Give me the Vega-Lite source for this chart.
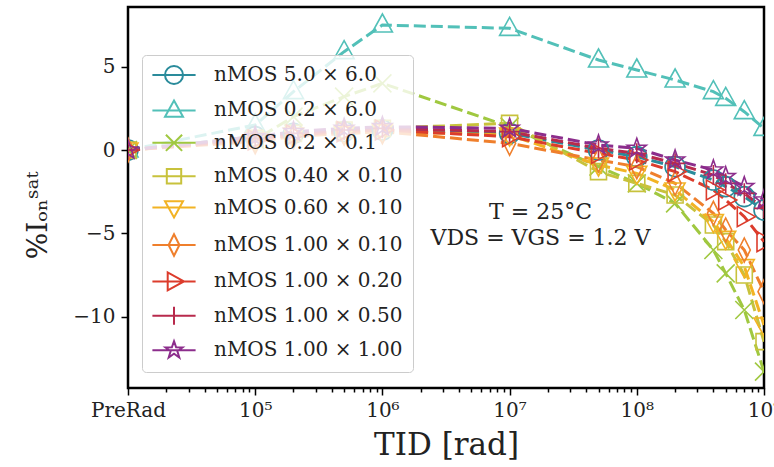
{
 "$schema": "https://vega.github.io/schema/vega-lite/v6.json",
 "width": 636, "height": 381,
 "autosize": {"type": "none"},
 "padding": {"left": 128, "top": 7, "right": 10, "bottom": 79},
 "background": "white",
 "config": {"view": {"stroke": "black", "strokeWidth": 2.5}, "font": "DejaVu Serif"},
 "resolve": {"scale": {"color": "independent", "shape": "independent"}},
 "data": {"values": [
  {"s":"nMOS 5.0 × 6.0","tid":10000,"v":0},{"s":"nMOS 5.0 × 6.0","tid":100000,"v":0.8},{"s":"nMOS 5.0 × 6.0","tid":200000,"v":1.0},{"s":"nMOS 5.0 × 6.0","tid":500000,"v":1.1},{"s":"nMOS 5.0 × 6.0","tid":1000000,"v":1.2},{"s":"nMOS 5.0 × 6.0","tid":10000000,"v":1.0},{"s":"nMOS 5.0 × 6.0","tid":50000000,"v":0.0},{"s":"nMOS 5.0 × 6.0","tid":100000000,"v":-0.4},{"s":"nMOS 5.0 × 6.0","tid":200000000,"v":-1.0},{"s":"nMOS 5.0 × 6.0","tid":400000000,"v":-1.8},{"s":"nMOS 5.0 × 6.0","tid":500000000,"v":-2.2},{"s":"nMOS 5.0 × 6.0","tid":700000000,"v":-2.8},{"s":"nMOS 5.0 × 6.0","tid":1000000000,"v":-3.6},
  {"s":"nMOS 0.2 × 6.0","tid":10000,"v":0},{"s":"nMOS 0.2 × 6.0","tid":100000,"v":1.5},{"s":"nMOS 0.2 × 6.0","tid":200000,"v":3.5},{"s":"nMOS 0.2 × 6.0","tid":500000,"v":5.9},{"s":"nMOS 0.2 × 6.0","tid":1000000,"v":7.5},{"s":"nMOS 0.2 × 6.0","tid":10000000,"v":7.3},{"s":"nMOS 0.2 × 6.0","tid":50000000,"v":5.4},{"s":"nMOS 0.2 × 6.0","tid":100000000,"v":4.8},{"s":"nMOS 0.2 × 6.0","tid":200000000,"v":4.2},{"s":"nMOS 0.2 × 6.0","tid":400000000,"v":3.5},{"s":"nMOS 0.2 × 6.0","tid":500000000,"v":3.1},{"s":"nMOS 0.2 × 6.0","tid":700000000,"v":2.3},{"s":"nMOS 0.2 × 6.0","tid":1000000000,"v":1.3},
  {"s":"nMOS 0.2 × 0.1","tid":10000,"v":0},{"s":"nMOS 0.2 × 0.1","tid":100000,"v":0.6},{"s":"nMOS 0.2 × 0.1","tid":200000,"v":2.0},{"s":"nMOS 0.2 × 0.1","tid":500000,"v":3.2},{"s":"nMOS 0.2 × 0.1","tid":1000000,"v":4.0},{"s":"nMOS 0.2 × 0.1","tid":10000000,"v":1.4},{"s":"nMOS 0.2 × 0.1","tid":50000000,"v":-1.0},{"s":"nMOS 0.2 × 0.1","tid":100000000,"v":-2.0},{"s":"nMOS 0.2 × 0.1","tid":200000000,"v":-3.2},{"s":"nMOS 0.2 × 0.1","tid":400000000,"v":-6.0},{"s":"nMOS 0.2 × 0.1","tid":500000000,"v":-7.4},{"s":"nMOS 0.2 × 0.1","tid":700000000,"v":-9.6},{"s":"nMOS 0.2 × 0.1","tid":1000000000,"v":-13.3},
  {"s":"nMOS 0.40 × 0.10","tid":10000,"v":0},{"s":"nMOS 0.40 × 0.10","tid":100000,"v":0.7},{"s":"nMOS 0.40 × 0.10","tid":200000,"v":1.0},{"s":"nMOS 0.40 × 0.10","tid":500000,"v":1.2},{"s":"nMOS 0.40 × 0.10","tid":1000000,"v":1.3},{"s":"nMOS 0.40 × 0.10","tid":10000000,"v":1.6},{"s":"nMOS 0.40 × 0.10","tid":50000000,"v":-1.3},{"s":"nMOS 0.40 × 0.10","tid":100000000,"v":-2.0},{"s":"nMOS 0.40 × 0.10","tid":200000000,"v":-2.7},{"s":"nMOS 0.40 × 0.10","tid":400000000,"v":-4.5},{"s":"nMOS 0.40 × 0.10","tid":500000000,"v":-5.5},{"s":"nMOS 0.40 × 0.10","tid":700000000,"v":-7.5},{"s":"nMOS 0.40 × 0.10","tid":1000000000,"v":-11.5},
  {"s":"nMOS 0.60 × 0.10","tid":10000,"v":0},{"s":"nMOS 0.60 × 0.10","tid":100000,"v":0.6},{"s":"nMOS 0.60 × 0.10","tid":200000,"v":0.9},{"s":"nMOS 0.60 × 0.10","tid":500000,"v":1.0},{"s":"nMOS 0.60 × 0.10","tid":1000000,"v":1.1},{"s":"nMOS 0.60 × 0.10","tid":10000000,"v":0.9},{"s":"nMOS 0.60 × 0.10","tid":50000000,"v":-0.9},{"s":"nMOS 0.60 × 0.10","tid":100000000,"v":-1.4},{"s":"nMOS 0.60 × 0.10","tid":200000000,"v":-2.4},{"s":"nMOS 0.60 × 0.10","tid":400000000,"v":-4.3},{"s":"nMOS 0.60 × 0.10","tid":500000000,"v":-5.3},{"s":"nMOS 0.60 × 0.10","tid":700000000,"v":-7.0},{"s":"nMOS 0.60 × 0.10","tid":1000000000,"v":-10.5},
  {"s":"nMOS 1.00 × 0.10","tid":10000,"v":0},{"s":"nMOS 1.00 × 0.10","tid":100000,"v":0.5},{"s":"nMOS 1.00 × 0.10","tid":200000,"v":0.8},{"s":"nMOS 1.00 × 0.10","tid":500000,"v":1.0},{"s":"nMOS 1.00 × 0.10","tid":1000000,"v":1.1},{"s":"nMOS 1.00 × 0.10","tid":10000000,"v":0.4},{"s":"nMOS 1.00 × 0.10","tid":50000000,"v":-0.6},{"s":"nMOS 1.00 × 0.10","tid":100000000,"v":-1.0},{"s":"nMOS 1.00 × 0.10","tid":200000000,"v":-2.0},{"s":"nMOS 1.00 × 0.10","tid":400000000,"v":-3.8},{"s":"nMOS 1.00 × 0.10","tid":500000000,"v":-4.8},{"s":"nMOS 1.00 × 0.10","tid":700000000,"v":-6.0},{"s":"nMOS 1.00 × 0.10","tid":1000000000,"v":-8.5},
  {"s":"nMOS 1.00 × 0.20","tid":10000,"v":0},{"s":"nMOS 1.00 × 0.20","tid":100000,"v":0.6},{"s":"nMOS 1.00 × 0.20","tid":200000,"v":0.9},{"s":"nMOS 1.00 × 0.20","tid":500000,"v":1.1},{"s":"nMOS 1.00 × 0.20","tid":1000000,"v":1.2},{"s":"nMOS 1.00 × 0.20","tid":10000000,"v":0.8},{"s":"nMOS 1.00 × 0.20","tid":50000000,"v":-0.2},{"s":"nMOS 1.00 × 0.20","tid":100000000,"v":-0.6},{"s":"nMOS 1.00 × 0.20","tid":200000000,"v":-1.3},{"s":"nMOS 1.00 × 0.20","tid":400000000,"v":-2.4},{"s":"nMOS 1.00 × 0.20","tid":500000000,"v":-3.0},{"s":"nMOS 1.00 × 0.20","tid":700000000,"v":-4.0},{"s":"nMOS 1.00 × 0.20","tid":1000000000,"v":-5.5},
  {"s":"nMOS 1.00 × 0.50","tid":10000,"v":0},{"s":"nMOS 1.00 × 0.50","tid":100000,"v":0.7},{"s":"nMOS 1.00 × 0.50","tid":200000,"v":1.0},{"s":"nMOS 1.00 × 0.50","tid":500000,"v":1.2},{"s":"nMOS 1.00 × 0.50","tid":1000000,"v":1.3},{"s":"nMOS 1.00 × 0.50","tid":10000000,"v":1.1},{"s":"nMOS 1.00 × 0.50","tid":50000000,"v":0.1},{"s":"nMOS 1.00 × 0.50","tid":100000000,"v":-0.2},{"s":"nMOS 1.00 × 0.50","tid":200000000,"v":-0.8},{"s":"nMOS 1.00 × 0.50","tid":400000000,"v":-1.5},{"s":"nMOS 1.00 × 0.50","tid":500000000,"v":-2.0},{"s":"nMOS 1.00 × 0.50","tid":700000000,"v":-2.6},{"s":"nMOS 1.00 × 0.50","tid":1000000000,"v":-3.5},
  {"s":"nMOS 1.00 × 1.00","tid":10000,"v":0},{"s":"nMOS 1.00 × 1.00","tid":100000,"v":0.8},{"s":"nMOS 1.00 × 1.00","tid":200000,"v":1.1},{"s":"nMOS 1.00 × 1.00","tid":500000,"v":1.3},{"s":"nMOS 1.00 × 1.00","tid":1000000,"v":1.4},{"s":"nMOS 1.00 × 1.00","tid":10000000,"v":1.3},{"s":"nMOS 1.00 × 1.00","tid":50000000,"v":0.3},{"s":"nMOS 1.00 × 1.00","tid":100000000,"v":0.1},{"s":"nMOS 1.00 × 1.00","tid":200000000,"v":-0.6},{"s":"nMOS 1.00 × 1.00","tid":400000000,"v":-1.2},{"s":"nMOS 1.00 × 1.00","tid":500000000,"v":-1.6},{"s":"nMOS 1.00 × 1.00","tid":700000000,"v":-2.2},{"s":"nMOS 1.00 × 1.00","tid":1000000000,"v":-3.0}
 ]},
 "encoding": {
  "x": {"field": "tid", "type": "quantitative", "title": "TID [rad]",
   "scale": {"type": "log", "domain": [10000, 1000000000], "nice": false},
   "axis": {"values": [10000,20000,30000,40000,50000,60000,70000,80000,90000,100000,200000,300000,400000,500000,600000,700000,800000,900000,1000000,2000000,3000000,4000000,5000000,6000000,7000000,8000000,9000000,10000000,20000000,30000000,40000000,50000000,60000000,70000000,80000000,90000000,100000000,200000000,300000000,400000000,500000000,600000000,700000000,800000000,900000000,1000000000],
    "labelExpr": "datum.value == 10000 ? 'PreRad' : datum.value == 100000 ? '10⁵' : datum.value == 1000000 ? '10⁶' : datum.value == 10000000 ? '10⁷' : datum.value == 100000000 ? '10⁸' : datum.value == 1000000000 ? '10⁹' : ''",
    "tickSize": {"condition": {"test": "indexof([10000,100000,1000000,10000000,100000000,1000000000], datum.value) >= 0", "value": 7}, "value": 4},
    "labelOverlap": false, "labelFlush": false, "labelBound": false, "grid": false, "domain": false,
    "tickColor": "black", "tickWidth": 1.5, "labelFont": "DejaVu Serif", "labelFontSize": 20, "labelColor": "#222", "labelPadding": 5,
    "titleFont": "DejaVu Serif", "titleFontSize": 31, "titleFontWeight": "normal", "titleColor": "#222", "titlePadding": 10}},
  "y": {"field": "v", "type": "quantitative", "title": "%Iₒₙˢᵃᵗ",
   "scale": {"domain": [-14.28, 8.58], "nice": false, "zero": false},
   "axis": {"values": [-10, -5, 0, 5], "labelExpr": "replace(format(datum.value, 'd'), '-', '−')",
    "labelFlush": false, "grid": false, "domain": false, "tickSize": 7, "tickColor": "black", "tickWidth": 1.5,
    "labelFont": "DejaVu Serif", "labelFontSize": 20, "labelColor": "#222", "labelPadding": 6,
    "titleFont": "DejaVu Serif", "titleFontSize": 28, "titleFontWeight": "normal", "titleColor": "#222", "titlePadding": 20, "titleY": 208}}
 },
 "layer": [
  {"mark": {"type": "line", "strokeWidth": 3, "strokeDash": [12, 5], "clip": true},
   "encoding": {"color": {"field": "s", "type": "nominal", "legend": null,
     "scale": {"domain": ["nMOS 5.0 × 6.0","nMOS 0.2 × 6.0","nMOS 0.2 × 0.1","nMOS 0.40 × 0.10","nMOS 0.60 × 0.10","nMOS 1.00 × 0.10","nMOS 1.00 × 0.20","nMOS 1.00 × 0.50","nMOS 1.00 × 1.00"],
       "range": ["#2a8b9b","#52c0b8","#a0c840","#c8c23c","#f2b324","#ef7f2c","#dc3c2c","#b82a4c","#8c2d8c"]}}}},
  {"mark": {"type": "point", "filled": false, "size": 400, "strokeWidth": 1.6, "opacity": 1, "clip": true},
   "encoding": {
    "color": {"field": "s", "type": "nominal", "legend": null,
     "scale": {"domain": ["nMOS 5.0 × 6.0","nMOS 0.2 × 6.0","nMOS 0.2 × 0.1","nMOS 0.40 × 0.10","nMOS 0.60 × 0.10","nMOS 1.00 × 0.10","nMOS 1.00 × 0.20","nMOS 1.00 × 0.50","nMOS 1.00 × 1.00"],
       "range": ["#2a8b9b","#52c0b8","#a0c840","#c8c23c","#f2b324","#ef7f2c","#dc3c2c","#b82a4c","#8c2d8c"]}},
    "shape": {"field": "s", "type": "nominal", "legend": null,
     "scale": {"domain": ["nMOS 5.0 × 6.0","nMOS 0.2 × 6.0","nMOS 0.2 × 0.1","nMOS 0.40 × 0.10","nMOS 0.60 × 0.10","nMOS 1.00 × 0.10","nMOS 1.00 × 0.20","nMOS 1.00 × 0.50","nMOS 1.00 × 1.00"],
      "range": ["M1,0A1,1,0,1,1,-1,0A1,1,0,1,1,1,0Z",
                "M0,-1.1L1,0.7L-1,0.7Z",
                "M-0.9,-0.9L0.9,0.9M-0.9,0.9L0.9,-0.9",
                "M-0.8,-0.8L0.8,-0.8L0.8,0.8L-0.8,0.8Z",
                "M0,1.1L1,-0.7L-1,-0.7Z",
                "M0,-1.2L0.6,0L0,1.2L-0.6,0Z",
                "M1.1,0L-0.7,-1L-0.7,1Z",
                "M-1,0L1,0M0,-1L0,1",
                "M0,-1L0.235,-0.324L0.951,-0.309L0.38,0.124L0.588,0.809L0,0.4L-0.588,0.809L-0.38,0.124L-0.951,-0.309L-0.235,-0.324Z"]}}}},
  {"transform": [{"filter": "false"}],
   "mark": {"type": "point", "filled": false, "size": 324, "strokeWidth": 2, "opacity": 1},
   "encoding": {
    "color": {"field": "s", "type": "nominal",
     "scale": {"domain": ["nMOS 5.0 × 6.0","nMOS 0.2 × 6.0","nMOS 0.2 × 0.1","nMOS 0.40 × 0.10","nMOS 0.60 × 0.10","nMOS 1.00 × 0.10","nMOS 1.00 × 0.20","nMOS 1.00 × 0.50","nMOS 1.00 × 1.00"],
       "range": ["#2a8b9b","#52c0b8","#a0c840","#c8c23c","#f2b324","#ef7f2c","#dc3c2c","#b82a4c","#8c2d8c"]},
     "legend": {"orient": "none", "legendX": 14, "legendY": 48, "title": null,
      "fillColor": "rgba(255,255,255,0.8)", "strokeColor": "#cccccc", "cornerRadius": 4, "padding": 10,
      "labelFont": "DejaVu Serif", "labelFontSize": 20, "labelColor": "#222", "labelLimit": 300,
      "symbolSize": 324, "symbolStrokeWidth": 2, "symbolOpacity": 1, "symbolOffset": 12, "labelOffset": 30, "rowPadding": 8.4}},
    "shape": {"field": "s", "type": "nominal",
     "legend": {"orient": "none", "legendX": 14, "legendY": 48, "title": null,
      "fillColor": "rgba(255,255,255,0.8)", "strokeColor": "#cccccc", "cornerRadius": 4, "padding": 10,
      "labelFont": "DejaVu Serif", "labelFontSize": 20, "labelColor": "#222", "labelLimit": 300,
      "symbolSize": 324, "symbolStrokeWidth": 2, "symbolOpacity": 1, "symbolOffset": 12, "labelOffset": 30, "rowPadding": 8.4},
     "scale": {"domain": ["nMOS 5.0 × 6.0","nMOS 0.2 × 6.0","nMOS 0.2 × 0.1","nMOS 0.40 × 0.10","nMOS 0.60 × 0.10","nMOS 1.00 × 0.10","nMOS 1.00 × 0.20","nMOS 1.00 × 0.50","nMOS 1.00 × 1.00"],
      "range": ["M1,0A1,1,0,1,1,-1,0A1,1,0,1,1,1,0ZM-2.4,0L2.4,0",
                "M0,-1.1L1,0.7L-1,0.7ZM-2.4,0L2.4,0",
                "M-0.9,-0.9L0.9,0.9M-0.9,0.9L0.9,-0.9M-2.4,0L2.4,0",
                "M-0.8,-0.8L0.8,-0.8L0.8,0.8L-0.8,0.8ZM-2.4,0L2.4,0",
                "M0,1.1L1,-0.7L-1,-0.7ZM-2.4,0L2.4,0",
                "M0,-1.2L0.6,0L0,1.2L-0.6,0ZM-2.4,0L2.4,0",
                "M1.1,0L-0.7,-1L-0.7,1ZM-2.4,0L2.4,0",
                "M-1,0L1,0M0,-1L0,1M-2.4,0L2.4,0",
                "M0,-1L0.235,-0.324L0.951,-0.309L0.38,0.124L0.588,0.809L0,0.4L-0.588,0.809L-0.38,0.124L-0.951,-0.309L-0.235,-0.324ZM-2.4,0L2.4,0"]}}}},
  {"data": {"values": [{"tid": 17500000, "v": -3.7, "label": "T = 25°C"}, {"tid": 17500000, "v": -5.3, "label": "VDS = VGS = 1.2 V"}]},
   "mark": {"type": "text", "fontSize": 22, "font": "DejaVu Serif", "color": "#222"},
   "encoding": {"text": {"field": "label"}}}
 ]
}
